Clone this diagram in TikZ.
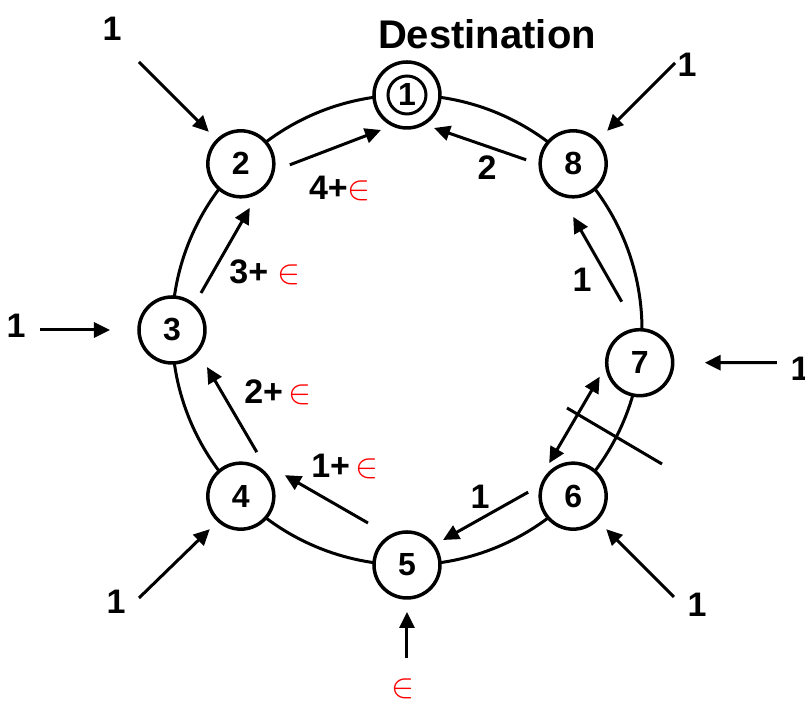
\documentclass[tikz,border=0pt]{standalone}
\usepackage{fontspec}
\setmainfont{Liberation Sans}
\usetikzlibrary{arrows.meta}
\newcommand{\redin}{\textcolor{red}{$\in$}}
\tikzset{
  station/.style={
    circle, draw, line width=1.75pt, fill=white,
    minimum size=33pt, inner sep=0pt,
    font=\fontsize{16}{19}\selectfont\bfseries,
  },
  ring/.style={line width=1.5pt},
  arr/.style={-{Triangle[length=8pt,width=7.5pt]}, line width=1.5pt},
  dblarr/.style={{Triangle[length=8pt,width=7.5pt]}-{Triangle[length=8pt,width=7.5pt]}, line width=1.5pt},
  lab/.style={inner sep=0pt, font=\fontsize{17}{20}\selectfont\bfseries},
}

\begin{document}
\begin{tikzpicture}[x=0.5pt,y=0.5pt]
\useasboundingbox (-407,-374) rectangle (398,330);

% ===== ring =====
\coordinate (hub) at (0,0);
\draw[ring] (hub) circle[radius=235];

% ===== stations on the ring =====
\node[station] (n1) at (90:235) {1};
\node[station] (n2) at (135:235) {2};
\node[station] (n3) at (180:235) {3};
\node[station] (n4) at (225:235) {4};
\node[station] (n5) at (270:235) {5};
\node[station] (n6) at (315:235) {6};
\node[station] (n7) at (-8:235) {7};
\node[station] (n8) at (45:235) {8};
\draw[ring] (n1.center) circle[radius=19];

\node[lab, font=\fontsize{20}{24}\selectfont\bfseries] (dest) at (80,296) {Destination};

% ===== external demand =====
\coordinate (t2) at (-268,268);
\coordinate (t8) at (268,267);
\coordinate (t3) at (-367,0);
\coordinate (t7) at (370,-32.7);
\coordinate (t4) at (-268,-268);
\coordinate (t6) at (267,-267);
\coordinate (t5) at (0,-328);

\node[lab] (in2) at (-295,301) {1};
\node[lab] (in8) at (280,265) {1};
\node[lab] (in3) at (-391,4) {1};
\node[lab] (in7) at (393,-39) {1};
\node[lab] (in4) at (-291,-272) {1};
\node[lab] (in6) at (290,-275) {1};
\node[lab] (in5) at (-4,-359) {\redin};

\draw[arr] (t2) -- ([shift={(-32,32)}]n2.center);
\draw[arr] (t8) -- ([shift={(34,33)}]n8.center);
\draw[arr] (t3) -- ([shift={(-62,0)}]n3.center);
\draw[arr] (t7) -- ([shift={(65,0)}]n7.center);
\draw[arr] (t4) -- ([shift={(-31,-33)}]n4.center);
\draw[arr] (t6) -- ([shift={(33,-33)}]n6.center);
\draw[arr] (t5) -- ([shift={(0,-47)}]n5.center);

% ===== flows towards the destination =====
\draw[arr] ([shift={(49,-1)}]n2.center) -- ([shift={(-26,-35)}]n1.center);
\draw[arr] ([shift={(-47,4)}]n8.center) -- ([shift={(27,-33)}]n1.center);
\draw[arr] ([shift={(29,37)}]n3.center) -- ([shift={(9,-44)}]n2.center);
\draw[arr] ([shift={(16,44)}]n4.center) -- ([shift={(35,-37)}]n3.center);
\draw[arr] ([shift={(-39,42)}]n5.center) -- ([shift={(44,21)}]n4.center);
\draw[arr] ([shift={(-45,4)}]n6.center) -- ([shift={(36,25)}]n5.center);
\draw[arr] ([shift={(-18,61)}]n7.center) -- ([shift={(0,-53)}]n8.center);
\draw[dblarr] ([shift={(-40,-14)}]n7.center) -- ([shift={(-24,33)}]n6.center);

\node[lab] (f21) at (-67,142) {4+\redin};
\node[lab] (f81) at (80,162) {2};
\node[lab] (f32) at (-142,58) {3+ \redin};
\node[lab] (f43) at (-129,-62) {2+\,\redin};
\node[lab] (f54) at (-62,-136) {1+\,\redin};
\node[lab] (f65) at (73,-167) {1};
\node[lab] (f78) at (175,50) {1};

% ===== broken link 6-7 =====
\coordinate (cutA) at (160,-78);
\coordinate (cutB) at (255,-134);
\draw[ring] (cutA) -- (cutB);

\end{tikzpicture}
\end{document}
